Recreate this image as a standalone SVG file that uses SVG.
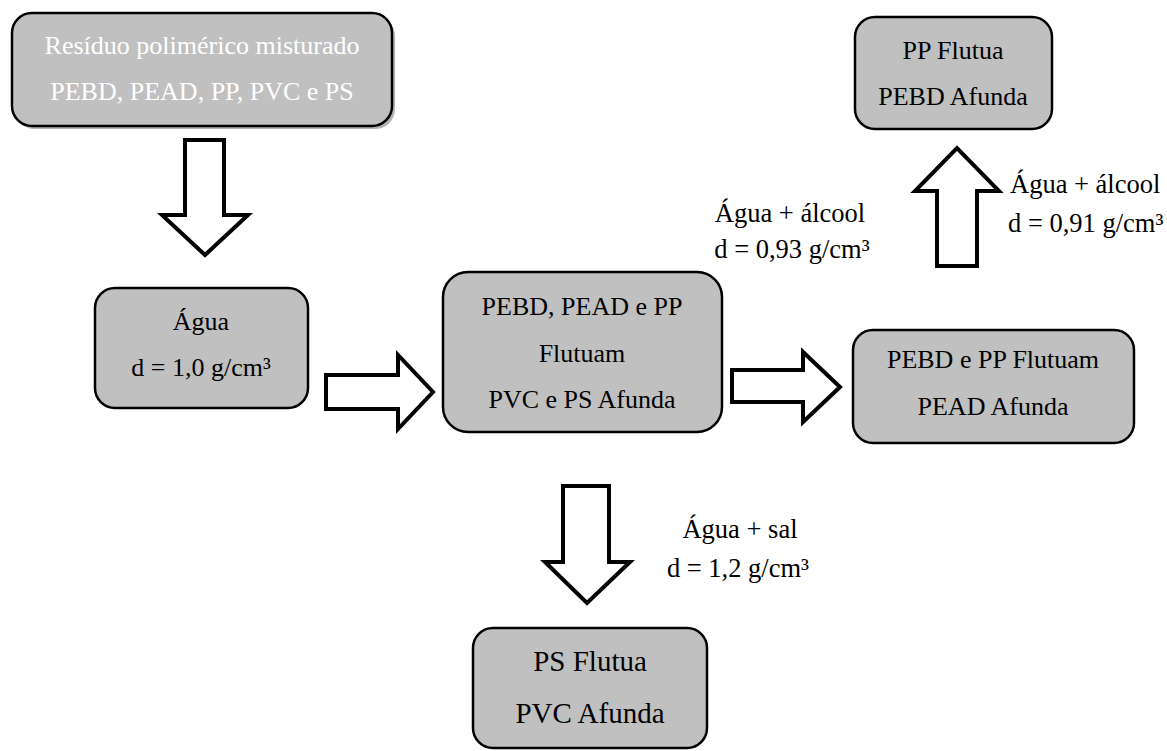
<svg xmlns="http://www.w3.org/2000/svg" width="1167" height="751" viewBox="0 0 1167 751">
<defs>
<style>
.box{fill:#c0c0c0;stroke:#000;stroke-width:2.5}
.shadow{fill:#808080;stroke:none;opacity:0.6}
.arr{fill:#fff;stroke:#000;stroke-width:4;stroke-linejoin:miter}
text{font-family:'Liberation Serif',Tinos,'Times New Roman',Times,'DejaVu Serif',serif}
.t{font-size:26px;fill:#000;text-anchor:middle}
.w{fill:#fff}
.l{font-size:26.5px;fill:#000}
</style>
</defs>
<rect width="1167" height="751" fill="#fff"/>
<g id="connectors">
<path class="arr" d="M185,140 H224 V215 H248 L205,255 L162,215 H185 Z"/>
<path class="arr" d="M326,375 H398 V355 L433,392 L398,429 V409 H326 Z"/>
<path class="arr" d="M732,370 H803 V352 L840,387 L803,422 V402 H732 Z"/>
<path class="arr" d="M937,266 V191 H915 L957,148 L999,191 H977 V266 Z"/>
<path class="arr" d="M563,486 H609 V562 H630 L587,603 L545,562 H563 Z"/>
</g>
<g id="node-residuo">
<rect class="shadow" x="15" y="16" width="380" height="113" rx="20"/>
<rect class="box" x="12" y="13" width="380" height="113" rx="20"/>
<text class="t w" x="202" y="54">Resíduo polimérico misturado</text>
<text class="t w" x="202" y="100">PEBD, PEAD, PP, PVC e PS</text>
</g>
<g id="node-agua">
<rect class="box" x="95" y="288" width="213" height="120" rx="20"/>
<text class="t" x="201" y="330">Água</text>
<text class="t" x="201" y="376">d = 1,0 g/cm³</text>
</g>
<g id="node-center">
<rect class="box" x="443" y="272" width="279" height="160" rx="25"/>
<text class="t" x="582" y="315">PEBD, PEAD e PP</text>
<text class="t" x="582" y="362">Flutuam</text>
<text class="t" x="582" y="408">PVC e PS Afunda</text>
</g>
<g id="node-pebd-pp">
<rect class="box" x="853" y="330" width="281" height="113" rx="20"/>
<text class="t" x="993" y="368">PEBD e PP Flutuam</text>
<text class="t" x="993" y="415">PEAD Afunda</text>
</g>
<g id="node-pp">
<rect class="box" x="855" y="17" width="197" height="112" rx="20"/>
<text class="t" x="953" y="59">PP Flutua</text>
<text class="t" x="953" y="105">PEBD Afunda</text>
</g>
<g id="node-ps">
<rect class="box" x="473" y="628" width="234" height="120" rx="20"/>
<text class="t" x="590" y="671" style="font-size:29px">PS Flutua</text>
<text class="t" x="590" y="723" style="font-size:29px">PVC Afunda</text>
</g>
<g id="labels">
<text class="l" x="790" y="222" text-anchor="middle">Água + álcool</text>
<text class="l" x="792" y="258" text-anchor="middle">d = 0,93 g/cm³</text>
<text class="l" x="1010" y="193">Água + álcool</text>
<text class="l" x="1008" y="232">d = 0,91 g/cm³</text>
<text class="l" x="740" y="538" text-anchor="middle">Água + sal</text>
<text class="l" x="738" y="577" text-anchor="middle">d = 1,2 g/cm³</text>
</g>
</svg>
